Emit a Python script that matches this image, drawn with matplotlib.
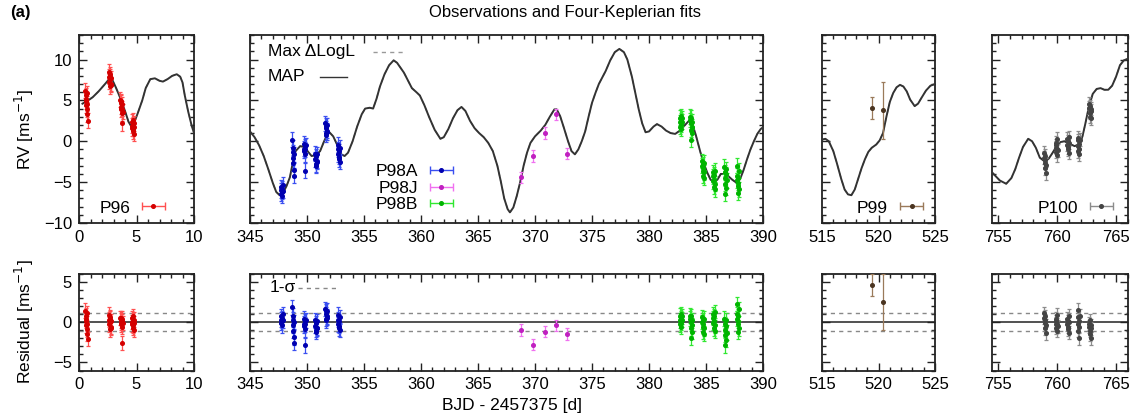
import numpy as np
import matplotlib.pyplot as plt
from matplotlib.ticker import MultipleLocator
from matplotlib.legend_handler import HandlerErrorbar
from matplotlib.container import ErrorbarContainer

plt.rcParams['font.family'] = ['Liberation Sans', 'DejaVu Sans']
plt.rcParams['font.size'] = 12

# ---- MAP model curve, one piece per observing window ----
m96_t = [0.3, 0.7, 1.2, 1.7, 2.2, 2.5, 2.7, 2.9, 3.2, 3.5, 3.7, 4.0, 4.3, 4.55, 4.8, 5.1,
         5.5, 5.8, 6.2, 6.6, 7.0, 7.3, 7.7, 8.1, 8.5, 8.8, 9.0, 9.2, 9.5, 9.8, 10.0]
m96_v = [4.6, 4.9, 5.4, 6.1, 6.9, 7.4, 7.8, 7.5, 6.6, 5.6, 4.9, 3.7, 2.4, 1.8, 2.3, 3.4,
         5.0, 6.5, 7.6, 7.7, 7.4, 7.3, 7.6, 8.0, 8.2, 7.9, 7.2, 5.6, 3.6, 1.9, 1.0]

m98_t = [345.0, 345.4, 345.8, 346.2, 346.6, 347.0, 347.3, 347.6, 347.9, 348.2, 348.5, 348.8,
         349.0, 349.4, 349.8, 350.1, 350.4, 350.8, 351.15, 351.5, 351.9, 352.3, 352.7, 353.0,
         353.3, 353.6, 354.0, 354.4, 354.8, 355.1, 355.5, 355.8, 356.1, 356.4, 356.8, 357.2,
         357.6, 357.9, 358.2, 358.5, 358.9, 359.2, 359.6, 359.9, 360.3, 360.7, 361.2, 361.7,
         362.0, 362.4, 362.8, 363.2, 363.55, 363.9, 364.3, 364.7, 365.1, 365.5, 365.9, 366.3,
         366.7, 367.0, 367.3, 367.6, 367.8, 368.1, 368.4, 368.7, 369.0, 369.3, 369.6, 370.0,
         370.5, 370.9, 371.3, 371.7, 371.9, 372.2, 372.5, 372.9, 373.2, 373.5, 373.8, 374.1,
         374.4, 374.7, 375.0, 375.3, 375.6, 375.9, 376.2, 376.6, 377.0, 377.4, 377.8, 378.1,
         378.5, 378.8, 379.1, 379.4, 379.7, 380.0, 380.4, 380.7, 381.1, 381.5, 381.9, 382.3,
         382.7, 383.1, 383.5, 383.8, 384.1, 384.5, 384.8, 385.1, 385.4, 385.7, 386.0, 386.3,
         386.6, 386.9, 387.3, 387.7, 388.0, 388.3, 388.6, 388.9, 389.2, 389.5, 389.8, 390.0]
m98_v = [1.2, 0.5, -0.5, -1.8, -3.4, -5.1, -6.2, -6.6, -6.3, -5.5, -4.4, -2.3,
         -1.2, -0.6, -0.7, -1.3, -1.8, -1.7, -1.2, 0.0, 1.2, 0.6, -0.6, -1.6,
         -1.8, -1.4, 0.0, 1.8, 3.3, 4.0, 4.1, 4.0, 5.2, 6.7, 8.2, 9.3,
         9.9, 9.6, 9.0, 8.4, 7.3, 6.5, 6.0, 5.6, 4.4, 3.0, 1.4, 0.3,
         0.5, 1.5, 2.8, 3.8, 4.2, 3.7, 2.5, 1.6, 1.0, 0.5, -0.2, -1.2,
         -3.0, -4.9, -7.0, -8.3, -8.7, -8.1, -6.7, -5.0, -3.0, -1.4, -0.2, 0.6,
         1.3, 2.0, 3.0, 3.9, 3.9, 3.1, 1.8, 0.0, -1.2, -1.6, -1.0, 0.0,
         1.2, 3.0, 4.7, 5.9, 7.0, 7.8, 8.6, 9.9, 10.9, 11.3, 10.9, 10.0,
         7.9, 5.9, 3.9, 2.2, 1.1, 1.2, 1.8, 2.1, 1.8, 1.3, 1.0, 0.9,
         1.3, 1.9, 2.5, 2.1, 0.8, -1.3, -2.7, -3.8, -4.7, -5.0, -4.7, -4.0,
         -4.0, -4.2, -4.7, -5.1, -4.6, -3.5, -2.2, -1.0, 0.0, 0.9, 1.5, 1.7]

m99_t = [515.0, 515.3, 515.6, 516.0, 516.3, 516.7, 517.0, 517.3, 517.6, 517.9, 518.2, 518.5,
         518.8, 519.1, 519.4, 519.8, 520.1, 520.4, 520.7, 521.0, 521.3, 521.6, 521.9, 522.2,
         522.5, 522.8, 523.2, 523.5, 523.8, 524.2, 524.6, 525.0]
m99_v = [0.2, 0.3, 0.0, -1.2, -2.6, -4.6, -5.9, -6.5, -6.6, -5.9, -4.6, -3.3,
         -2.2, -1.3, -0.8, -0.4, 0.1, 1.0, 3.0, 4.8, 5.9, 6.6, 6.9, 6.7,
         6.1, 5.1, 4.3, 4.6, 5.3, 6.2, 6.8, 7.0]

m100_t = [754.50, 754.83, 755.16, 755.70, 756.14, 756.47, 756.79, 757.12, 757.56, 757.89,
          758.21, 758.54, 758.98, 759.31, 759.63, 759.96, 760.29, 760.62, 761.05, 761.49,
          761.93, 762.15, 762.37, 762.69, 763.02, 763.35, 763.68, 764.00, 764.33, 764.66,
          764.99, 765.32, 765.65, 766.00]
m100_v = [-3.8, -4.3, -4.8, -5.2, -4.5, -3.4, -2.0, -0.7, 0.3, 0.0,
          -0.8, -2.0, -2.5, -2.1, -1.4, -0.6, -0.1, 0.0, -0.3, -0.6,
          -0.3, 0.6, 2.0, 4.2, 5.8, 6.4, 6.5, 6.3, 6.3, 6.8,
          7.9, 9.3, 9.9, 10.1]

# ---- radial velocities and residuals ----
p96_t = [0.55, 0.57, 0.59, 0.62, 0.64, 0.66, 0.68, 0.70, 0.73, 0.75,
         2.60, 2.62, 2.64, 2.67, 2.69, 2.71, 2.73, 2.75, 2.78, 2.80,
         3.60, 3.62, 3.64, 3.67, 3.69, 3.71, 3.73, 3.75, 3.78, 3.80,
         4.60, 4.62, 4.64, 4.67, 4.69, 4.71, 4.73, 4.75, 4.78, 4.80]
p96_rv = [6.2, 5.6, 4.9, 5.2, 4.4, 3.9, 5.9, 3.3, 4.6, 2.5,
          8.5, 7.9, 7.3, 8.2, 6.7, 7.6, 8.0, 7.0, 6.9, 7.7,
          5.1, 4.7, 4.9, 4.2, 3.9, 4.5, 3.4, 4.0, 2.2, 3.6,
          2.4, 1.9, 1.6, 2.1, 1.2, 2.6, 1.5, 1.8, 0.9, 2.2]
p96_res = [1.4, 0.8, 0.1, 0.4, -0.4, -0.9, 1.1, -1.5, -0.2, -2.1,
           0.9, 0.3, -0.3, 0.6, -0.9, 0.0, 0.4, -0.6, -0.7, 0.1,
           0.5, 0.2, 0.5, -0.1, -0.3, 0.4, -0.6, 0.1, -2.6, -0.1,
           0.5, 0.0, -0.3, 0.2, -0.7, 0.7, -0.4, -0.1, -1.0, 0.3]
p96_err = 0.9

p98a_t = [347.71, 347.74, 347.76, 347.79, 347.81, 347.84, 347.86, 347.89,
          348.71, 348.74, 348.76, 348.79, 348.81, 348.84, 348.86, 348.89,
          349.71, 349.74, 349.76, 349.79, 349.81, 349.84, 349.86, 349.89,
          350.71, 350.74, 350.76, 350.79, 350.81, 350.84, 350.86, 350.89,
          351.61, 351.64, 351.66, 351.69, 351.71, 351.74, 351.76, 351.79,
          352.71, 352.74, 352.76, 352.79, 352.81, 352.84, 352.86, 352.89]
p98a_rv = [-5.6, -6.0, -6.4, -5.8, -6.2, -6.7, -5.3, -6.1,
           0.2, -0.8, -1.3, -2.0, -2.7, -4.2, -1.6, -3.5,
           -0.3, -0.9, -1.2, -0.6, -1.6, -3.6, -1.0, -0.5,
           -1.5, -2.2, -2.8, -1.8, -3.0, -2.4, -1.6, -2.5,
           2.2, 1.6, 1.0, 1.9, 0.8, 1.3, 2.0, 1.1,
           -0.4, -1.0, -1.6, -2.2, -1.2, -1.9, -0.8, -2.5]
p98a_res = [0.7, 0.3, -0.1, 0.5, 0.1, -0.4, 1.0, 0.2,
            1.8, 0.8, 0.3, -0.4, -1.1, -2.6, 0.0, -1.9,
            0.4, -0.2, -0.5, 0.1, -0.9, -2.9, -0.3, 0.2,
            0.2, -0.5, -1.0, -0.1, -1.2, -0.7, 0.1, -0.8,
            1.6, 1.0, 0.4, 1.3, 0.2, 0.7, 1.4, 0.5,
            0.9, 0.3, -0.3, -0.8, 0.1, -0.5, 0.6, -1.0]
p98a_err = 0.9

p98j_t = [368.8, 369.85, 370.85, 371.85, 372.85]
p98j_rv = [-4.4, -1.8, 1.0, 3.3, -1.5]
p98j_res = [-1.0, -2.8, -1.2, -0.4, -1.5]
p98j_err = 0.7

p98b_t = [382.70, 382.73, 382.75, 382.78, 382.80, 382.82, 382.85, 382.87, 382.90,
          383.60, 383.63, 383.65, 383.68, 383.70, 383.72, 383.75, 383.77, 383.80,
          384.65, 384.68, 384.70, 384.73, 384.75, 384.77, 384.80, 384.82, 384.85,
          385.60, 385.63, 385.65, 385.68, 385.70, 385.72, 385.75, 385.77, 385.80,
          386.60, 386.63, 386.65, 386.68, 386.70, 386.72, 386.75, 386.77, 386.80,
          387.70, 387.73, 387.75, 387.78, 387.80, 387.82, 387.85, 387.87, 387.90]
p98b_rv = [2.9, 2.3, 1.8, 3.1, 2.0, 2.6, 1.5, 2.4, 2.8,
           3.0, 2.6, 1.4, 2.2, 0.2, 2.9, 1.8, 2.4, 1.0,
           -2.4, -3.0, -3.6, -4.2, -2.8, -3.3, -4.5, -3.8, -2.6,
           -3.8, -4.3, -4.9, -5.6, -4.1, -4.7, -5.2, -3.6, -5.9,
           -3.1, -3.8, -4.5, -5.2, -6.4, -4.0, -3.4, -5.7, -4.8,
           -3.0, -4.2, -4.8, -5.5, -6.3, -4.5, -5.1, -3.6, -5.9]
p98b_res = [0.8, 0.2, -0.3, 1.0, -0.1, 0.5, -0.6, 0.3, 0.7,
            0.8, 0.4, -0.8, 0.0, -2.0, 0.7, -0.4, 0.2, -1.2,
            0.6, 0.0, -0.6, -1.2, 0.2, -0.3, -1.5, -0.8, 0.4,
            1.0, 0.5, -0.1, -0.8, 0.7, 0.1, -0.4, 1.2, -1.1,
            0.4, -0.3, -1.0, -1.6, -2.9, -0.5, 0.2, -2.2, -1.3,
            2.2, 1.0, 0.4, -0.3, -1.2, 0.7, 0.1, 1.6, -0.8]
p98b_err = 0.9

p99_t = [519.4, 520.4]
p99_rv = [4.1, 3.8]
p99_res = [4.6, 2.5]
p99_err = [1.35, 3.5]

p100_t = [758.89, 758.92, 758.94, 758.97, 758.99, 759.02, 759.04, 759.07,
          759.87, 759.90, 759.92, 759.95, 759.97, 760.00, 760.02, 760.05,
          760.85, 760.88, 760.90, 760.93, 760.95, 760.98, 761.00, 761.03,
          761.73, 761.76, 761.78, 761.81, 761.83, 761.86, 761.88, 761.91,
          762.71, 762.74, 762.76, 762.79, 762.81, 762.84, 762.86, 762.89]
p100_rv = [-1.4, -2.0, -2.6, -3.3, -1.8, -2.3, -3.9, -2.9,
           -0.2, -0.8, -1.3, -0.5, -1.7, -0.9, 0.3, -1.1,
           0.3, -0.4, -1.0, 0.0, -0.7, -1.4, 0.5, -0.2,
           0.1, -0.6, -1.2, 0.4, -0.9, -1.6, -0.3, 0.2,
           4.6, 4.1, 3.5, 3.0, 4.3, 3.7, 2.8, 4.0]
p100_res = [1.1, 0.5, -0.1, -0.8, 0.7, 0.2, -1.4, -0.4,
            0.4, -0.2, -0.7, 0.1, -1.1, -0.3, 0.9, -0.5,
            0.4, -0.3, -0.9, 0.1, -0.6, -1.3, 0.8, 0.0,
            0.6, -0.3, -1.1, 1.5, -0.6, -2.0, 0.1, 0.8,
            -0.2, -0.6, -1.1, -1.5, 0.2, -0.8, -2.0, -0.4]
p100_err = 0.8

sigma_1 = 1.1

# name, times, rv, residuals, errors, point colour, bar colour
sets = [
    ('P96', p96_t, p96_rv, p96_res, p96_err, '#d40000', '#ff5050'),
    ('P98A', p98a_t, p98a_rv, p98a_res, p98a_err, '#0000b0', '#3a4ff0'),
    ('P98J', p98j_t, p98j_rv, p98j_res, p98j_err, '#c020c0', '#f070f0'),
    ('P98B', p98b_t, p98b_rv, p98b_res, p98b_err, '#00b400', '#30e830'),
    ('P99', p99_t, p99_rv, p99_res, p99_err, '#4a3420', '#9a7a5a'),
    ('P100', p100_t, p100_rv, p100_res, p100_err, '#444444', '#8c8c8c'),
]

W, H = 1130, 415
fig = plt.figure(figsize=(W / 100, H / 100), dpi=100)

# panel edges in pixels: (left, right) and x range
cols = [((79, 194), (0, 10)),
        ((250, 763), (345, 390)),
        ((822, 935), (515, 525)),
        ((992, 1128), (754.5, 766))]
top_row = (35, 223)
bot_row = (273.5, 370.5)


def add_panel(xpx, ypx):
    return fig.add_axes([xpx[0] / W, 1 - ypx[1] / H,
                         (xpx[1] - xpx[0]) / W, (ypx[1] - ypx[0]) / H])


def style(ax, xlim, ylim, ylabels):
    ax.set_xlim(*xlim)
    ax.set_ylim(*ylim)
    ax.xaxis.set_major_locator(MultipleLocator(5))
    ax.xaxis.set_minor_locator(MultipleLocator(1))
    ax.yaxis.set_major_locator(MultipleLocator(5))
    ax.yaxis.set_minor_locator(MultipleLocator(1))
    ax.tick_params(which='both', direction='in', top=True, right=True,
                   width=1.0, color='#222222', labelsize=12, pad=5)
    ax.tick_params(which='major', length=6)
    ax.tick_params(which='minor', length=3)
    for s in ax.spines.values():
        s.set_linewidth(1.3)
        s.set_color('#222222')
    if not ylabels:
        ax.tick_params(labelleft=False)


models = [(m96_t, m96_v), (m98_t, m98_v), (m99_t, m99_v), (m100_t, m100_v)]
top_axes, bot_axes = [], []
for i, ((xpx, xlim), (mt, mv)) in enumerate(zip(cols, models)):
    ax = add_panel(xpx, top_row)
    style(ax, xlim, (-10, 13), i == 0)
    ax.plot(mt, mv, color='#999999', lw=1.0, ls=(0, (3, 3)), zorder=2)
    ax.plot(mt, mv, color='#333333', lw=1.4, zorder=3)
    top_axes.append(ax)

    bx = add_panel(xpx, bot_row)
    style(bx, xlim, (-6, 6), i == 0)
    bx.axhline(0, color='#222222', lw=1.1, zorder=2)
    for s in (sigma_1, -sigma_1):
        bx.axhline(s, color='#888888', lw=1.0, ls=(0, (3, 3)), zorder=2)
    bot_axes.append(bx)

panel_of = {'P96': 0, 'P98A': 1, 'P98J': 1, 'P98B': 1, 'P99': 2, 'P100': 3}
handles = {}
for name, t, rv, res, err, c, ec in sets:
    k = panel_of[name]
    kw = dict(fmt='o', ms=2.6, mfc=c, mec=c, ecolor=ec, elinewidth=0.9,
              capsize=1.6, capthick=0.9, zorder=4)
    top_axes[k].errorbar(t, rv, yerr=err, **kw)
    bot_axes[k].errorbar(t, res, yerr=err, **kw)
    # horizontal key sample in the gnuplot manner
    handles[name] = top_axes[k].errorbar([np.nan], [np.nan], xerr=[1], fmt='o', ms=2.6,
                                         mfc=c, mec=c, ecolor=ec, elinewidth=1.0,
                                         capsize=3, capthick=1.0)

leg_kw = dict(frameon=False, markerfirst=False, fontsize=12.5, handlelength=1.5,
              handletextpad=0.6, borderpad=0.2, borderaxespad=0.0,
              handler_map={ErrorbarContainer: HandlerErrorbar(xerr_size=0.65)})

top_axes[0].legend([handles['P96']], ['P96'], loc='center right',
                   bbox_to_anchor=(0.791, 0.080), **leg_kw)
top_axes[1].legend([handles[n] for n in ('P98A', 'P98J', 'P98B')],
                   ['P98A', 'P98J', 'P98B'], loc='center right', labelspacing=0.08,
                   bbox_to_anchor=(0.405, 0.186), **leg_kw)
top_axes[2].legend([handles['P99']], ['P99'], loc='center right',
                   bbox_to_anchor=(0.938, 0.080), **leg_kw)
top_axes[3].legend([handles['P100']], ['P100'], loc='center right',
                   bbox_to_anchor=(0.926, 0.080), **leg_kw)

# model key in the long panel
ax = top_axes[1]
ax.text(0.035, 0.910, 'Max \u0394LogL', transform=ax.transAxes, ha='left', va='center',
        fontsize=12.5)
ax.plot([0.240, 0.298], [0.912, 0.912], transform=ax.transAxes, color='#999999', lw=1.0,
        ls=(0, (3, 3)))
ax.text(0.035, 0.777, 'MAP', transform=ax.transAxes, ha='left', va='center', fontsize=12.5)
ax.plot([0.136, 0.189], [0.779, 0.779], transform=ax.transAxes, color='#333333', lw=1.0)

bx = bot_axes[1]
bx.text(0.039, 0.856, '1-\u03c3', transform=bx.transAxes, ha='left', va='center',
        fontsize=12.5)
bx.plot([0.094, 0.168], [0.846, 0.846], transform=bx.transAxes, color='#888888', lw=1.0,
        ls=(0, (3, 3)))

top_axes[0].set_ylabel('RV [ms$^{-1}$]', fontsize=12.5)
top_axes[0].yaxis.set_label_coords(-0.37, 0.5)
bot_axes[0].set_ylabel('Residual [ms$^{-1}$]', fontsize=12.5)
bot_axes[0].yaxis.set_label_coords(-0.37, 0.5)

fig.text(565 / W, 1 - 13 / H, 'Observations and Four-Keplerian fits', ha='center',
         va='center', fontsize=12)
fig.text(10 / W, 1 - 13 / H, '(a)', ha='left', va='center', fontsize=12, weight='bold')
fig.text(512 / W, 1 - 405 / H, 'BJD - 2457375 [d]', ha='center', va='center', fontsize=12.5)

fig.savefig('out.png', dpi=100)
